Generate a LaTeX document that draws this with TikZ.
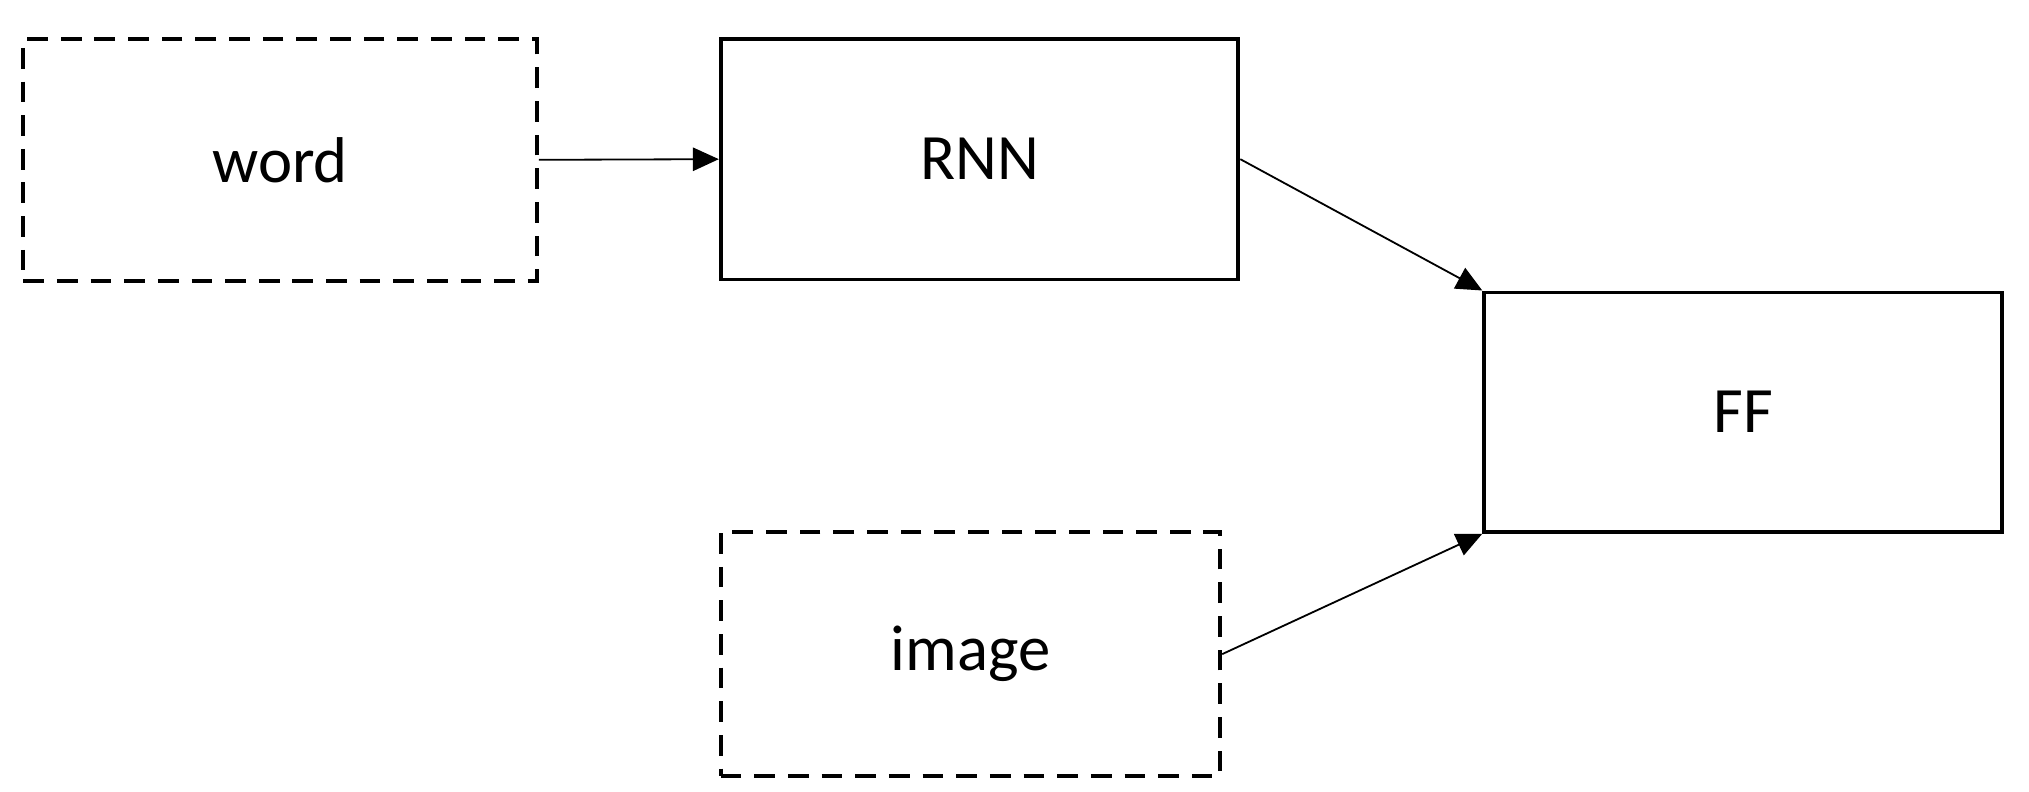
\documentclass[tikz,border=0pt]{standalone}
\usepackage{fontspec}
\setmainfont{Carlito}
\usetikzlibrary{arrows.meta}
\begin{document}
\begin{tikzpicture}[x=0.5pt,y=-0.5pt,
  box/.style={draw,line width=1.5pt,inner sep=0pt,font=\fontsize{25}{30}\selectfont},
  dbox/.style={box,dash pattern=on 8pt off 5pt},
  arr/.style={-{Triangle[length=10pt,width=9pt]},line width=0.7pt}]
\useasboundingbox (0,0) rectangle (1568,612);
\node[dbox,minimum width=198.5pt,minimum height=93.5pt] (word) at (216.5,123.5) {word};
\node[box,minimum width=200pt,minimum height=93pt] (rnn) at (757,123) {RNN};
\node[box,minimum width=200pt,minimum height=92.5pt] (ff) at (1347,318.5) {FF};
\node[dbox,minimum width=193pt,minimum height=94.5pt] (image) at (750,505.5) {image};
\draw[arr] (word.east) -- (rnn.west);
\draw[arr] (rnn.east) -- (ff.north west);
\draw[arr] (image.east) -- (ff.south west);
\end{tikzpicture}
\end{document}
